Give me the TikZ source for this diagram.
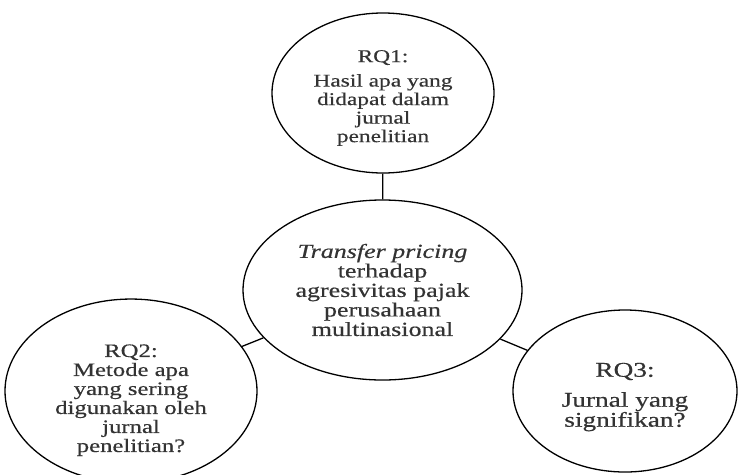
\documentclass[tikz,border=0pt]{standalone}
\usepackage{fontspec}
\setmainfont[FakeStretch=1.3, FakeBold=0.5]{Liberation Serif}
\usetikzlibrary{shapes.geometric}

\begin{document}
\begin{tikzpicture}[x=1pt, y=-1pt,
    oval/.style={ellipse, draw, line width=1.3pt, inner sep=0pt, align=center, text=black!80}]
        \useasboundingbox (0,0) rectangle (738,474);

        % Nodes
        \node[oval, minimum width=222, minimum height=160, font=\fontsize{18}{18.5}\selectfont] at (383, 93)  (rqa)
            {\mbox{}\\[3.5pt]RQ1:\\[6pt]Hasil apa yang\\didapat dalam\\jurnal\\penelitian};
        \node[oval, minimum width=279, minimum height=180, font=\fontsize{20}{19.5}\selectfont] at (382.5, 290)  (main)
            {\textit{Transfer pricing}\\terhadap\\agresivitas pajak\\perusahaan\\multinasional};
        \node[oval, minimum width=252, minimum height=162, font=\fontsize{19}{19}\selectfont] at (131, 391)  (rqb)
            {\mbox{}\\[12pt]RQ2:\\Metode apa\\yang sering\\digunakan oleh\\jurnal\\penelitian?};
        \node[oval, minimum width=224, minimum height=162, font=\fontsize{21}{20}\selectfont] at (625, 391)  (rqc)
            {\mbox{}\\[6pt]RQ3:\\[10pt]Jurnal yang\\signifikan?};

        \draw[line width=1.3pt]  (main) edge (rqa);
        \draw[line width=1.3pt]  (main) edge (rqb);
        \draw[line width=1.3pt]  (main) edge (rqc);
    \end{tikzpicture}
\end{document}
